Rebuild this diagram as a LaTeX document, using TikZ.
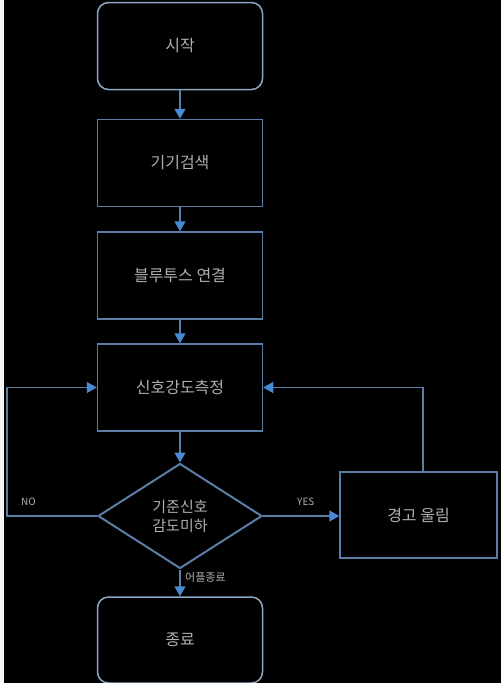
\documentclass[tikz,border=0pt]{standalone}
\usepackage{fontspec}
\newfontfamily\kr{Noto Sans CJK KR}
\usetikzlibrary{arrows.meta,shapes.geometric}
\definecolor{edge}{HTML}{5A7EA6}
\definecolor{redge}{HTML}{8DA6C2}
\definecolor{tip}{HTML}{4A8AD4}
\definecolor{txt}{HTML}{B0B0B0}
\tikzset{
  procbox/.style={draw=edge, line width=1.5pt, minimum width=165pt, minimum height=87pt, inner sep=0pt, text=txt, font=\kr\fontsize{16}{19}\selectfont},
  termbox/.style={procbox, draw=redge, rounded corners=11pt},
  decbox/.style={draw=edge, line width=2pt, diamond, minimum width=164pt, minimum height=105pt, inner sep=0pt, text=txt, align=center, font=\kr\fontsize{15}{19}\selectfont},
  conn/.style={draw=edge, line width=1.5pt, -{Triangle[width=11pt,length=10pt,fill=tip,color=tip]}},
  lbl/.style={text=txt, inner sep=0pt, font=\kr\fontsize{10}{12}\selectfont}
}
\begin{document}
\begin{tikzpicture}[x=1pt,y=-1pt]
\fill[black] (0,0) rectangle (501,683);
\fill[white!92!gray] (0,0) rectangle (4,683);
\useasboundingbox (0,0) rectangle (501,683);
\node[termbox] (start) at (180,46) {시작};
\node[procbox] (b1) at (180,163) {기기검색};
\node[procbox] (b2) at (180,275.5) {블루투스 연결};
\node[procbox] (b3) at (180,387.5) {신호강도측정};
\node[decbox] (dec) at (180,516) {기준신호\\감도미하};
\node[procbox, minimum width=157pt, minimum height=86pt] (alarm) at (418.5,515) {경고 울림};
\node[termbox, minimum height=86pt] (end) at (180,640) {종료};
\coordinate (nl) at (7,516);
\coordinate (fb) at (423,472);
\draw[conn] (start) -- (b1);
\draw[conn] (b1) -- (b2);
\draw[conn] (b2) -- (b3);
\draw[conn] (b3) -- (dec);
\draw[conn] (dec.east) -- (dec.east -| alarm.west);
\draw[conn] (dec) -- (end);
\draw[conn] (dec.west) -- (nl) |- (b3.west);
\draw[conn] (fb) |- (b3.east);
\node[lbl, anchor=west] (no) at (21,502) {NO};
\node[lbl, anchor=west] (yes) at (297,502) {YES};
\node[lbl, anchor=west, font=\kr\fontsize{11}{13}\selectfont] (quit) at (185,577) {어플종료};
\end{tikzpicture}
\end{document}
